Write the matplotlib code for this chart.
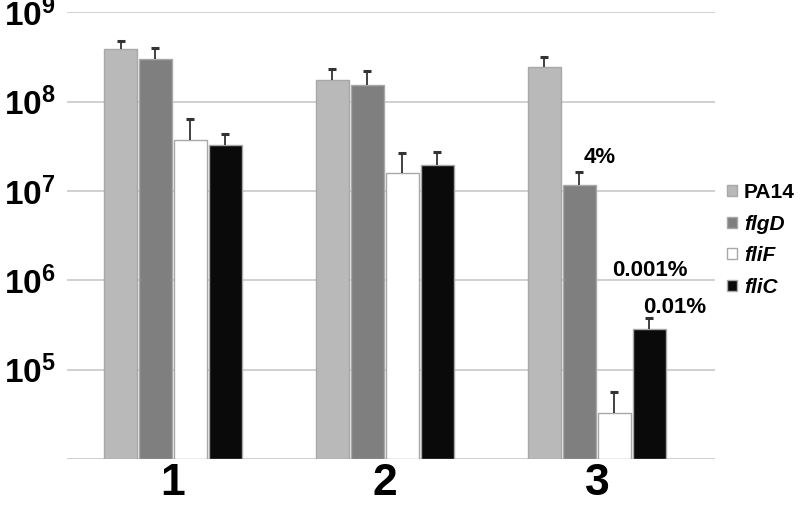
import matplotlib.pyplot as plt
import numpy as np

plt.rcParams['font.family'] = ['Liberation Sans', 'DejaVu Sans']
plt.rcParams['mathtext.fontset'] = 'custom'
plt.rcParams['mathtext.rm'] = 'Liberation Sans'
plt.rcParams['mathtext.bf'] = 'Liberation Sans:bold'

# данные
groups = ['1', '2', '3']
strains = ['PA14', 'flgD', 'fliF', 'fliC']
values = {
    'PA14': [3.86e8, 1.74e8, 2.43e8],
    'flgD': [3.0e8, 1.55e8, 1.16e7],
    'fliF': [3.7e7, 1.58e7, 3.27e4],
    'fliC': [3.25e7, 1.96e7, 2.85e5],
}
err_top = {
    'PA14': [4.7e8, 2.3e8, 3.15e8],
    'flgD': [4.0e8, 2.2e8, 1.62e7],
    'fliF': [6.3e7, 2.65e7, 5.6e4],
    'fliC': [4.3e7, 2.7e7, 3.8e5],
}
colors = ['#b9b9b9', '#7f7f7f', '#ffffff', '#0a0a0a']
pct_labels = ['4%', '0.001%', '0.01%']
pct_x = [2.014, 2.25, 2.368]
pct_y = [2.39e7, 1.27e6, 5.0e5]

fig = plt.figure(figsize=(8, 5.07), dpi=100)
ax = fig.add_axes([67 / 800, 0.0947, 648 / 800, 0.8813])
ax.set_yscale('log')
ax.set_ylim(1e4, 1e9)
ax.set_xlim(-0.5, 2.557)

x = np.arange(len(groups))
pitch = 0.165
width = 0.156
for i, s in enumerate(strains):
    pos = x + (i - 1.5) * pitch
    v = np.array(values[s])
    top = np.array(err_top[s])
    ax.bar(pos, v - 1e4, bottom=1e4, width=width, color=colors[i],
           edgecolor='#a8a8a8', linewidth=1, zorder=3, label=s)
    # только верхний ус
    ax.vlines(pos, v, top, color='#333333', linewidth=1.3, zorder=4)
    ax.plot(pos, top, linestyle='none', marker='_', markersize=6,
            markeredgewidth=2.2, color='#333333', zorder=4)

# подписи процентов
for lab, px, py in zip(pct_labels, pct_x, pct_y):
    ax.text(px, py, lab, fontsize=16, fontweight='bold', ha='center', va='center')

ax.set_yticks([1e5, 1e6, 1e7, 1e8, 1e9])
ax.set_yticklabels([r'$\mathbf{10^{%d}}$' % k for k in [5, 6, 7, 8, 9]], fontsize=24)
ax.yaxis.set_minor_locator(plt.NullLocator())
ax.set_xticks(x)
ax.set_xticklabels(groups, fontsize=32, fontweight='bold')
ax.tick_params(axis='x', length=0, pad=3)
ax.tick_params(axis='y', length=0, pad=8)

ax.grid(axis='y', color='#c8c8c8', linewidth=1.2, zorder=0)
ax.axhline(1e4, color='#c8c8c8', linewidth=1.2, zorder=1)
for sp in ax.spines.values():
    sp.set_visible(False)

handles, labels = ax.get_legend_handles_labels()
leg = ax.legend(handles, labels, loc='center left', bbox_to_anchor=(0.99, 0.49),
                frameon=False, fontsize=15, handlelength=0.45, handleheight=0.45,
                handletextpad=0.35, labelspacing=0.6)
for t in leg.get_texts():
    t.set_fontweight('bold')
    if t.get_text() != 'PA14':
        t.set_fontstyle('italic')

fig.savefig('out.png', dpi=100)
